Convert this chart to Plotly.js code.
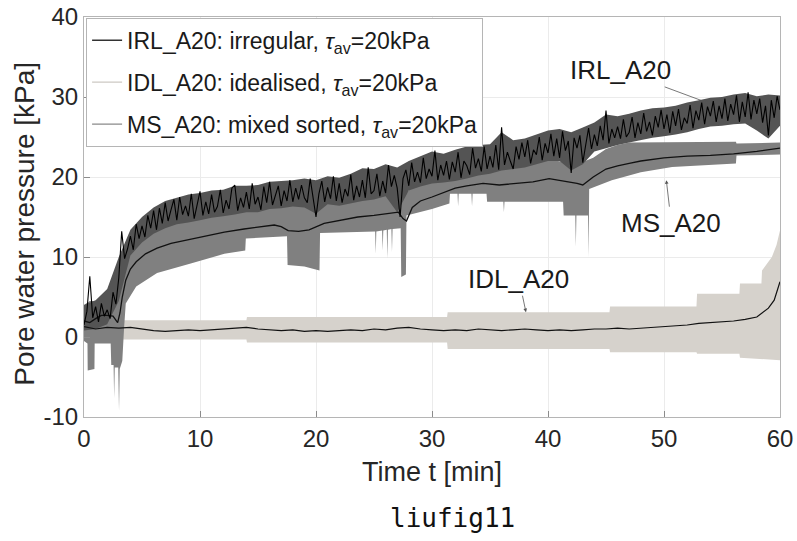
<!DOCTYPE html>
<html>
<head>
<meta charset="utf-8">
<script src="https://cdn.plot.ly/plotly-3.0.1.min.js"></script>
<style>html,body{margin:0;padding:0;background:#fff;}#chart{width:797px;height:541px;}</style>
</head>
<body>
<div id="chart"></div>
<script>
// ---------- data ----------
const xTicks = [0, 10, 20, 30, 40, 50, 60];
const yTicks = [-10, 0, 10, 20, 30, 40];

const seriesNames = [
  'IRL_A20: irregular, <i>\u03c4</i><sub>av</sub>=20kPa',
  'IDL_A20: idealised, <i>\u03c4</i><sub>av</sub>=20kPa',
  'MS_A20: mixed sorted, <i>\u03c4</i><sub>av</sub>=20kPa'
];

// IRL_A20 (irregular): black signal, one value every 0.25 min from t = 0
const irlStart = 0;
const irlStep = 0.25;
const irlLine = [
  1.5, 3.2, 7.6, 2.4,   3.8, 1.9, 4.2, 2.6,   3.4, 2.3, 5.6, 4.1,
  7.4, 13.2, 9.8, 11.0, 12.6, 10.9, 14.1, 12.3, 13.9, 12.5, 15.2, 13.6,
  15.8, 13.4, 16.1, 14.2, 16.8, 14.5, 15.9, 17.2, 14.6, 17.5, 15.3, 16.4,
  15.1, 17.9, 14.8, 16.6, 18.2, 15.2, 16.9, 15.4, 17.8, 15.6, 16.3, 18.4,
  15.5, 17.1, 16.0, 18.6, 19.0, 15.8, 17.4, 16.2, 18.1, 16.0, 19.2, 16.6,
  17.5, 15.9, 18.8, 16.8, 19.4, 16.5, 17.8, 18.9, 16.4, 18.3, 17.0, 19.6,
  16.9, 18.6, 17.2, 19.0, 17.4, 16.8, 19.8, 17.1, 15.0, 17.9, 19.5, 16.9,
  18.7, 17.3, 20.1, 17.0, 19.2, 16.8, 18.5, 17.6, 20.3, 17.1, 18.9, 17.5,
  19.6, 17.4, 21.2, 17.9, 18.3, 20.4, 17.6, 19.5, 18.0, 21.5, 18.8, 20.2,
  18.6, 15.0, 19.8, 20.9, 18.9, 21.8, 19.4, 20.6, 19.3, 22.4, 19.8, 21.0,
  20.1, 23.3, 19.6, 21.5, 20.2, 22.0, 19.7, 21.9, 20.6, 23.1, 19.9, 22.0,
  21.4, 20.3, 23.6, 21.1, 22.3, 20.7, 23.8, 21.0, 22.6, 21.2, 24.0, 20.9,
  26.2, 21.5, 23.1, 22.0, 21.0, 23.8, 22.2, 24.3, 22.5, 24.6, 21.7, 23.4,
  22.8, 25.0, 22.1, 24.2, 23.0, 25.4, 22.6, 24.8, 22.4, 25.7, 23.3, 24.5,
  20.5, 24.9, 23.6, 25.2, 21.8, 24.0, 26.1, 23.5, 25.3, 23.9, 26.4, 24.6,
  28.3, 24.2, 26.0, 24.9, 26.3, 24.8, 27.2, 25.0, 25.6, 27.5, 24.9, 26.8,
  25.4, 28.0, 25.7, 26.9, 25.2, 27.6, 26.2, 28.4, 26.0, 27.8, 25.5, 28.2,
  26.4, 28.5, 25.9, 27.4, 26.7, 29.0, 26.1, 28.3, 27.1, 29.3, 26.6, 28.8,
  27.6, 29.5, 26.9, 28.9, 27.3, 29.8, 27.0, 29.1, 27.8, 30.2, 26.9, 29.4,
  27.5, 30.6, 27.2, 29.6, 27.9, 29.8, 26.8, 28.9, 25.2, 29.6, 27.4, 30.1,
  28.4
];
// IRL_A20 raw-signal envelope, one value per minute from t = 0
const irlBandStart = 0;
const irlBandStep = 1;
const irlUpper = [
  4.0, 4.6, 6.0, 10.0, 13.4, 15.0, 16.2, 17.0, 17.4, 17.8,
  18.0, 18.3, 18.4, 18.9, 18.9, 19.0, 19.4, 19.5, 19.6, 19.8,
  19.6, 20.1, 19.9, 20.4, 21.1, 21.0, 21.6, 21.2, 22.0, 22.6,
  23.2, 22.9, 23.4, 23.8, 24.0, 24.1, 25.6, 24.6, 24.8, 25.3,
  25.8, 26.0, 25.6, 26.2, 26.8, 27.8, 27.6, 27.9, 28.3, 28.6,
  28.7, 28.9, 29.3, 29.6, 29.9, 30.0, 30.3, 30.5, 30.1, 30.3,
  30.2
];
const irlLower = [
  0.8, 1.0, 1.6, 4.5, 10.2, 11.8, 12.9, 13.6, 14.1, 14.3,
  14.6, 14.9, 15.1, 15.3, 15.6, 15.6, 16.0, 16.1, 16.3, 16.2,
  15.4, 16.6, 16.4, 16.7, 17.0, 17.2, 17.6, 15.6, 18.3, 18.8,
  19.2, 19.3, 19.5, 19.8, 20.2, 20.4, 20.8, 21.0, 21.2, 21.6,
  22.0, 22.0, 20.8, 21.6, 23.2, 23.6, 24.0, 24.3, 24.6, 24.9,
  25.1, 25.3, 25.6, 26.0, 26.3, 26.4, 26.6, 26.7, 25.8, 24.8,
  26.4
];

// MS_A20 (mixed sorted)
const msMeanT = [0, 0.5, 1, 1.5, 2, 2.5, 2.9, 3.1, 3.3, 3.6, 4, 4.5, 5.3, 6.3, 7.5, 9.2, 10.5, 12.1, 13.8, 15,
  16.4, 17, 17.6, 18.5, 19.4, 20.7, 22, 23.6, 25, 26, 27.1, 27.5, 27.8, 28.3, 29, 30, 31, 32, 33, 34.4,
  35.8, 37, 38.7, 40.1, 41.5, 42.5, 43, 43.9, 45, 46, 47, 48, 50, 52, 54, 56, 58, 59, 60];
const msMean = [2.0, 1.8, 2.3, 2.7, 2.7, 2.6, 1.8, 3.0, 5.0, 7.1, 8.5, 9.4, 10.4, 11.1, 11.7, 12.2, 12.6, 13.1, 13.5, 13.7,
  14.0, 13.8, 13.3, 13.2, 13.4, 14.2, 14.6, 15.0, 15.2, 15.4, 15.6, 14.8, 14.5, 16.2, 17.0, 17.5, 18.1, 18.6, 18.9, 19.2,
  19.0, 19.2, 19.4, 19.8, 19.5, 19.2, 19.0, 20.0, 21.0, 21.4, 21.7, 22.0, 22.4, 22.6, 22.7, 22.9, 23.2, 23.4, 23.6];
const msUpperT = [0, 0.5, 1, 2, 2.9, 3.1, 3.3, 3.6, 4, 4.5, 5.3, 6.3, 7.5, 9.2, 10.5, 12.1, 13.8, 15, 16.4, 17.6,
  19.4, 20.7, 22, 23.6, 25, 27.1, 27.5, 28.3, 30, 32, 34.4, 37, 40.1, 42.5, 43.9, 45, 46, 47, 56.2, 56.25, 60];
const msUpper = [4.0, 4.5, 4.5, 4.8, 4.5, 6.0, 9.0, 11.0, 12.0, 12.8, 13.6, 14.2, 14.8, 15.3, 15.6, 16.0, 16.3, 16.5, 16.8, 16.5,
  16.6, 17.0, 17.4, 17.8, 18.0, 18.4, 17.5, 18.8, 19.9, 21.0, 21.6, 21.6, 22.2, 21.6, 22.4, 23.5, 24.0, 24.3, 24.4, 24.2, 24.3];
const msLowerT = [0, 0.3, 0.32, 0.9, 0.92, 2.3, 2.35, 2.55, 2.6, 2.65, 2.95, 3.02, 3.08, 3.3, 3.45, 3.6, 4.5, 6.3, 9.2, 12.1,
  13.9, 13.95, 17.5, 17.55, 19.0, 20.3, 20.35, 25.1, 25.15, 25.2, 25.7, 25.75, 25.8, 26.1, 26.15, 26.2, 26.5, 26.55, 26.6, 27.3,
  27.35, 27.75, 27.8, 28.3, 30, 31.5, 31.55, 32.2, 32.25, 32.3, 33.4, 33.45, 33.5, 34.7, 34.75, 36.15, 36.2, 36.25, 41.3, 41.35,
  42.35, 42.4, 42.45, 43.45, 43.5, 43.55, 45.5, 48, 50.7, 56.2, 56.25, 60];
const msLower = [-0.5, -0.8, -4.2, -4.0, -0.8, -0.8, -3.5, -3.5, -7.7, -3.8, -3.8, -9.2, -4.0, -3.0, 1.0, 4.2, 6.3, 8.0, 9.2, 10.4,
  10.8, 12.3, 12.6, 9.0, 8.8, 8.3, 13.0, 13.2, 10.4, 13.2, 13.3, 10.8, 13.3, 13.4, 9.8, 13.4, 13.5, 10.6, 13.5, 13.6,
  7.5, 7.8, 15.2, 15.4, 16.0, 16.7, 17.9, 17.9, 16.3, 17.9, 17.9, 16.3, 17.9, 17.9, 16.9, 16.9, 15.6, 16.9, 16.9, 15.2,
  15.2, 11.3, 15.2, 15.2, 10.0, 18.5, 19.6, 20.6, 21.25, 21.7, 22.7, 22.8];

// IDL_A20 (idealised)
const idlMeanT = [0, 1, 2, 3, 4, 5, 6, 7, 8, 9, 10, 11, 12, 13, 14, 15, 16, 17, 18, 19,
  20, 21, 22, 23, 24, 25, 26, 27, 28, 29, 30, 31, 32, 33, 34, 35, 36, 37, 38, 39,
  40, 41, 42, 43, 44, 45, 46, 47, 48, 49, 50, 51, 52, 53, 54, 55, 56, 57, 58, 59, 59.5, 60];
const idlMean = [1.3, 1.0, 1.2, 1.1, 1.2, 1.0, 0.8, 0.7, 0.8, 0.9, 0.8, 0.9, 1.0, 1.1, 1.2, 1.0, 0.9, 0.8, 0.9, 0.7,
  0.8, 0.7, 0.8, 0.9, 0.8, 1.0, 0.9, 1.1, 1.2, 1.0, 0.9, 0.8, 0.9, 0.8, 1.0, 0.9, 0.8, 0.9, 1.0, 0.9,
  0.8, 0.9, 0.8, 0.9, 1.0, 1.0, 1.1, 1.0, 1.1, 1.2, 1.3, 1.4, 1.5, 1.7, 1.8, 1.9, 2.0, 2.2, 2.5, 3.6, 4.6, 6.9];
const idlUpperT = [0, 14, 14.05, 31.3, 31.35, 45.3, 45.35, 52.8, 52.85, 56.5, 56.55, 58.4, 58.45, 59.3, 59.7, 60];
const idlUpper = [2.1, 2.1, 2.5, 2.5, 3.1, 3.1, 3.8, 3.8, 5.4, 5.4, 6.7, 6.7, 8.3, 10.0, 11.5, 13.3];
const idlLowerT = [0, 14, 14.05, 31.3, 31.35, 45.3, 45.35, 52.8, 52.85, 56.5, 56.55, 60];
const idlLower = [-0.3, -0.3, -0.7, -0.7, -1.5, -1.5, -1.9, -1.9, -2.1, -2.1, -2.6, -2.9];

// annotation labels
const labelTexts = ['IRL_A20', 'MS_A20', 'IDL_A20'];
const labelTargetT = [53.9, 50.2, 38.1];
const labelTargetP = [29.2, 19.6, 3.1];

// ---------- styles ----------
const C_IRL = '#545454', C_MS = '#808080', C_IDL = '#d6d2cc';
const FONT = 'Liberation Sans, Arial, Helvetica, sans-serif';

function band(x, y, fill, color) {
  return {x: x, y: y, type: 'scatter', mode: 'lines', line: {width: 0, color: color},
          fill: fill, fillcolor: color, showlegend: false, hoverinfo: 'skip'};
}
function bandDx(x0, dx, y, fill, color) {
  return {x0: x0, dx: dx, y: y, type: 'scatter', mode: 'lines', line: {width: 0, color: color},
          fill: fill, fillcolor: color, showlegend: false, hoverinfo: 'skip'};
}

const traces = [
  band(idlLowerT, idlLower, 'none', C_IDL),
  band(idlUpperT, idlUpper, 'tonexty', C_IDL),
  band(msLowerT, msLower, 'none', C_MS),
  band(msUpperT, msUpper, 'tonexty', C_MS),
  bandDx(irlBandStart, irlBandStep, irlLower, 'none', C_IRL),
  bandDx(irlBandStart, irlBandStep, irlUpper, 'tonexty', C_IRL),
  {x: idlMeanT, y: idlMean, type: 'scatter', mode: 'lines', line: {color: '#111', width: 1.2}, showlegend: false, hoverinfo: 'skip'},
  {x: msMeanT, y: msMean, type: 'scatter', mode: 'lines', line: {color: '#111', width: 1.3}, showlegend: false, hoverinfo: 'skip'},
  {x0: irlStart, dx: irlStep, y: irlLine, type: 'scatter', mode: 'lines', line: {color: '#000', width: 1.1}, showlegend: false, hoverinfo: 'skip'},
  // legend entries
  {x: [null], y: [null], type: 'scatter', mode: 'lines', name: seriesNames[0], legendgroup: 'g1', line: {color: '#333333', width: 1.3}},
  {x: [null], y: [null], type: 'scatter', mode: 'lines', name: seriesNames[1], legendgroup: 'g2', line: {color: '#cdc9c3', width: 1.3}},
  {x: [null], y: [null], type: 'scatter', mode: 'lines', name: seriesNames[2], legendgroup: 'g3', line: {color: '#8a8a8a', width: 1.3}}
];

const arrowOffsets = [[-89, -33], [5, 43], [-7, -33]];
const annotations = labelTexts.map((t, i) => ({
  x: labelTargetT[i], y: labelTargetP[i], xref: 'x', yref: 'y', text: t,
  showarrow: true, ax: arrowOffsets[i][0], ay: arrowOffsets[i][1],
  arrowhead: 2, arrowsize: 0.9, arrowwidth: 0.8, arrowcolor: '#555',
  font: {family: FONT, size: 26, color: '#1a1a1a'}
}));
annotations.push(
  {text: 'Pore water pressure [kPa]', xref: 'paper', yref: 'paper', x: -0.085, y: 0.483,
   textangle: -90, showarrow: false, xanchor: 'center', yanchor: 'middle',
   font: {family: FONT, size: 28, color: '#262626'}},
  {text: 'Time t [min]', xref: 'paper', yref: 'paper', x: 0.5, y: -0.1375,
   showarrow: false, xanchor: 'center', yanchor: 'middle',
   font: {family: FONT, size: 27, color: '#262626'}},
  {text: 'liufig11', xref: 'paper', yref: 'paper', x: 0.529, y: -0.2525,
   showarrow: false, xanchor: 'center', yanchor: 'middle',
   font: {family: 'DejaVu Sans Mono, Liberation Mono, monospace', size: 26, color: '#111'}}
);

const axisCommon = {
  showgrid: true, gridcolor: '#ebebeb', gridwidth: 1, zeroline: false,
  showline: true, mirror: true, linecolor: '#b5b5b5', linewidth: 1,
  ticks: 'inside', ticklen: 6, tickcolor: '#8c8c8c', tickwidth: 1,
  tickfont: {family: FONT, size: 24, color: '#262626'}
};

const layout = {
  width: 797, height: 541,
  margin: {l: 84, r: 17, t: 17, b: 124},
  paper_bgcolor: '#ffffff', plot_bgcolor: '#ffffff',
  font: {family: FONT, color: '#262626'},
  xaxis: Object.assign({}, axisCommon, {range: [0, 60], tickvals: xTicks, ticktext: xTicks.map(String)}),
  yaxis: Object.assign({}, axisCommon, {range: [-10, 40], tickvals: yTicks, ticktext: yTicks.map(String)}),
  legend: {x: 0.003, y: 0.998, xanchor: 'left', yanchor: 'top', bgcolor: '#ffffff',
           bordercolor: '#b5b5b5', borderwidth: 1, itemwidth: 30, traceorder: 'grouped',
           tracegroupgap: 9,
           font: {family: FONT, size: 23, color: '#1a1a1a'}},
  annotations: annotations,
  showlegend: true
};

Plotly.newPlot('chart', traces, layout, {staticPlot: true, displayModeBar: false});
</script>
</body>
</html>
